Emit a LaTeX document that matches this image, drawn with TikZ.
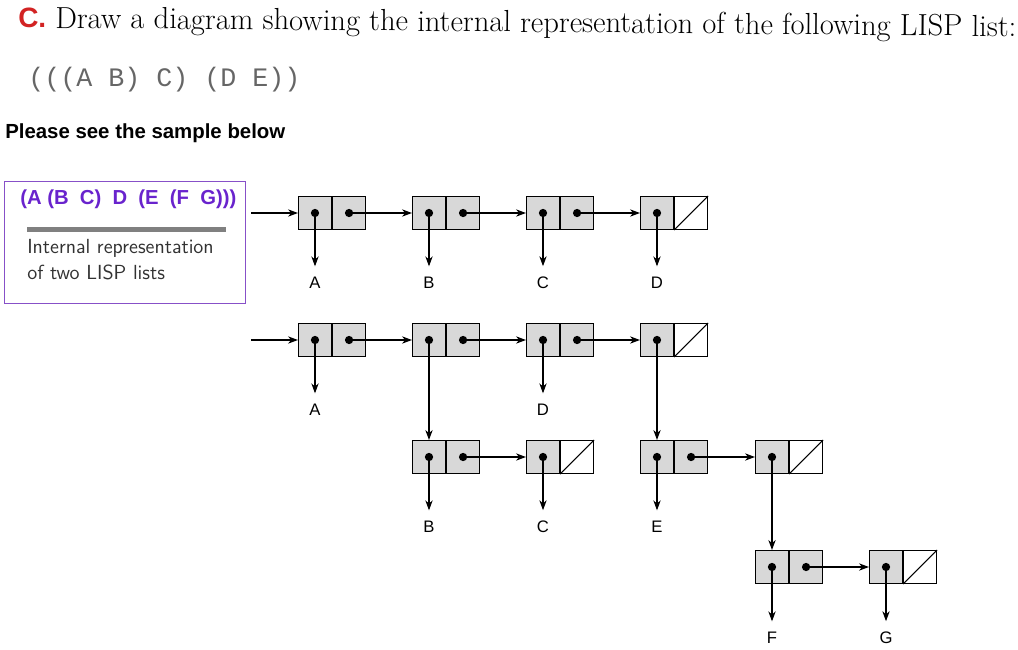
\documentclass[tikz,border=0pt]{standalone}
\usepackage{fontspec}
\usepackage{tikz}
\usetikzlibrary{positioning}
\usetikzlibrary{arrows.meta}
\newfontfamily\arialfont{Liberation Sans}
\newfontfamily\courfont{Liberation Mono}
\definecolor{cellgray}{RGB}{216,216,216}
\definecolor{boxpurple}{RGB}{135,80,200}
\definecolor{listpurple}{RGB}{105,35,205}
\definecolor{qred}{RGB}{210,35,35}
\definecolor{notegray}{RGB}{50,50,50}

\tikzset{
  car/.style={draw, fill=cellgray, minimum width=24.75pt, minimum height=24.75pt, inner sep=0pt, line width=0.8pt},
  cdr/.style={car, right=0pt of #1},
  nilcdr/.style={car, fill=white, right=0pt of #1},
  atom/.style={font=\arialfont\fontsize{12.5}{15}\selectfont, inner sep=0pt, inner ysep=8pt},
  ptr/.style={-{Stealth[length=7.5pt,width=5.5pt]}, line width=0.8pt},
}

\begin{document}
\begin{tikzpicture}[x=0.75pt,y=-0.75pt]
\useasboundingbox (0,0) rectangle (1018,650);

% question
\node[anchor=base west, text=qred, font=\arialfont\bfseries\fontsize{21}{25}\selectfont, inner sep=0pt] (qlabel) at (18,27) {C.};
\node[anchor=base west, rotate=-0.5, font=\fontsize{22.9}{27}\selectfont, inner sep=0pt] (qtext) at (55,28) {Draw a diagram showing the internal representation of the following LISP list:};
\node[anchor=west, text=gray!80!black, font=\courfont\fontsize{20}{24}\selectfont, inner sep=0pt] (qlist) at (28,80) {(((A B) C) (D E))};
\node[anchor=west, font=\arialfont\bfseries\fontsize{15.3}{18}\selectfont, inner sep=0pt] (note) at (5,133) {Please see the sample below};

% sample box
\node[draw=boxpurple, line width=1pt, anchor=north west, minimum width=180.75pt, minimum height=91.5pt] (samplebox) at (4,181) {};
\node[anchor=west, text=listpurple, font=\arialfont\bfseries\fontsize{15.2}{18}\selectfont, inner sep=0pt] (samplelist) at (20,199) {(A (B~ C)~ D~ (E~ (F~ G)))};
\draw[gray, line width=3.75pt] (27,229) -- (226,229);
\node[anchor=west, text=notegray, font=\sffamily\fontsize{15.3}{18}\selectfont, inner sep=0pt] (cap1) at (27,248) {Internal representation};
\node[anchor=west, text=notegray, font=\sffamily\fontsize{15.3}{18}\selectfont, inner sep=0pt] (cap2) at (27,272) {of two LISP lists};

% first list
\node[car] (a1) at (315,213) {};
\node[cdr=a1] (a1d) {};
\node[car] (b1) at (429,213) {};
\node[cdr=b1] (b1d) {};
\node[car] (c1) at (543,213) {};
\node[cdr=c1] (c1d) {};
\node[car] (d1) at (657,213) {};
\node[nilcdr=d1] (d1d) {};
\draw[line width=0.8pt] (d1d.south west) -- (d1d.north east);

\node[atom] (la1) at (315,283) {A};
\node[atom] (lb1) at (429,283) {B};
\node[atom] (lc1) at (543,283) {C};
\node[atom] (ld1) at (657,283) {D};

\coordinate (in1) at (251,213);
\draw[ptr] (in1) -- (a1);
\draw[ptr] (a1d.center) -- (b1);
\draw[ptr] (b1d.center) -- (c1);
\draw[ptr] (c1d.center) -- (d1);
\draw[ptr] (a1.center) -- (la1);
\draw[ptr] (b1.center) -- (lb1);
\draw[ptr] (c1.center) -- (lc1);
\draw[ptr] (d1.center) -- (ld1);

% second list
\node[car] (a2) at (315,340) {};
\node[cdr=a2] (a2d) {};
\node[car] (b2) at (429,340) {};
\node[cdr=b2] (b2d) {};
\node[car] (c2) at (543,340) {};
\node[cdr=c2] (c2d) {};
\node[car] (d2) at (657,340) {};
\node[nilcdr=d2] (d2d) {};
\draw[line width=0.8pt] (d2d.south west) -- (d2d.north east);

\node[car] (e3) at (429,457) {};
\node[cdr=e3] (e3d) {};
\node[car] (f3) at (543,457) {};
\node[nilcdr=f3] (f3d) {};
\draw[line width=0.8pt] (f3d.south west) -- (f3d.north east);
\node[car] (g3) at (657,457) {};
\node[cdr=g3] (g3d) {};
\node[car] (h3) at (772,457) {};
\node[nilcdr=h3] (h3d) {};
\draw[line width=0.8pt] (h3d.south west) -- (h3d.north east);

\node[car] (i4) at (772,567) {};
\node[cdr=i4] (i4d) {};
\node[car] (j4) at (886,567) {};
\node[nilcdr=j4] (j4d) {};
\draw[line width=0.8pt] (j4d.south west) -- (j4d.north east);

\node[atom] (la2) at (315,410) {A};
\node[atom] (ld2) at (543,410) {D};
\node[atom] (lb3) at (429,527) {B};
\node[atom] (lc3) at (543,527) {C};
\node[atom] (le3) at (657,527) {E};
\node[atom] (lf4) at (772,638) {F};
\node[atom] (lg4) at (886,638) {G};

\coordinate (in2) at (251,340);
\draw[ptr] (in2) -- (a2);
\draw[ptr] (a2d.center) -- (b2);
\draw[ptr] (b2d.center) -- (c2);
\draw[ptr] (c2d.center) -- (d2);
\draw[ptr] (a2.center) -- (la2);
\draw[ptr] (b2.center) -- (e3);
\draw[ptr] (c2.center) -- (ld2);
\draw[ptr] (d2.center) -- (g3);
\draw[ptr] (e3d.center) -- (f3);
\draw[ptr] (e3.center) -- (lb3);
\draw[ptr] (f3.center) -- (lc3);
\draw[ptr] (g3d.center) -- (h3);
\draw[ptr] (g3.center) -- (le3);
\draw[ptr] (h3.center) -- (i4);
\draw[ptr] (i4d.center) -- (j4);
\draw[ptr] (i4.center) -- (lf4);
\draw[ptr] (j4.center) -- (lg4);

% dots
\foreach \c in {a1,a1d,b1,b1d,c1,c1d,d1,a2,a2d,b2,b2d,c2,c2d,d2,e3,e3d,f3,g3,g3d,h3,i4,i4d,j4}
  \fill (\c) circle (3.1pt);

\end{tikzpicture}
\end{document}
